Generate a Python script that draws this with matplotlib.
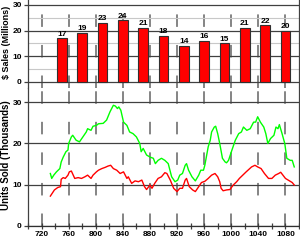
import numpy as np
import matplotlib
matplotlib.use("Agg")
import matplotlib.pyplot as plt
from matplotlib.ticker import MultipleLocator

plt.rcParams['font.family'] = ['Liberation Sans', 'DejaVu Sans']
plt.rcParams['font.weight'] = 'bold'
plt.rcParams['lines.scale_dashes'] = False

# Yearly sales (millions of $)
bar_x = [750, 780, 810, 840, 870, 900, 930, 960, 990, 1020, 1050, 1080]
sales = [17, 19, 23, 24, 21, 18, 14, 16, 15, 21, 22, 20]

# Units sold (thousands), two product lines
green_x = [733, 735, 738, 742, 747, 749, 752, 756, 759, 760, 764, 766, 771, 776,
           781, 786, 788, 793, 796, 801, 804, 811, 816, 821, 826, 829, 832, 834,
           837, 841, 846, 850, 855, 860, 865, 867, 870, 875, 880, 885, 888, 892,
           897, 902, 907, 912, 917, 921, 924, 928, 932, 934, 937, 942, 947, 952,
           955, 959, 961, 966, 969, 971, 975, 977, 980, 983, 987, 991, 993, 996,
           1001, 1006, 1011, 1015, 1018, 1023, 1028, 1033, 1036, 1039, 1043,
           1048, 1051, 1054, 1058, 1063, 1066, 1069, 1071, 1075, 1079, 1082,
           1087, 1090, 1093]
green_y = [12.7, 11.5, 12.3, 13.1, 13.9, 15.5, 16.7, 18.0, 18.4, 20.0, 21.6, 22.0,
           20.8, 20.4, 21.6, 22.8, 23.6, 23.2, 24.2, 24.4, 24.8, 24.9, 25.7, 27.7,
           29.3, 29.1, 28.5, 28.9, 28.1, 25.2, 24.4, 22.8, 22.4, 21.6, 20.0, 18.0,
           18.8, 17.2, 16.7, 16.4, 15.1, 15.9, 16.4, 15.9, 15.1, 11.9, 10.7, 11.1,
           12.3, 12.7, 14.7, 15.1, 13.5, 11.9, 10.9, 12.3, 13.5, 13.5, 14.7, 19.2,
           20.8, 22.8, 24.0, 24.2, 22.4, 20.0, 16.4, 15.5, 15.3, 15.9, 18.4, 20.8,
           22.4, 22.8, 24.0, 23.2, 23.6, 25.2, 25.2, 26.5, 25.2, 24.0, 22.4, 20.0,
           21.2, 22.0, 24.0, 23.6, 24.6, 22.4, 20.0, 16.4, 15.9, 15.9, 14.3]

red_x = [733, 739, 744, 748, 749, 752, 755, 759, 761, 764, 769, 774, 779, 784,
         788, 793, 796, 801, 804, 809, 814, 818, 822, 826, 831, 836, 841, 846,
         848, 853, 858, 863, 868, 872, 875, 880, 883, 887, 892, 897, 902, 905,
         910, 915, 920, 924, 928, 932, 934, 938, 943, 947, 952, 956, 961, 966,
         971, 976, 980, 983, 985, 988, 993, 998, 1003, 1008, 1012, 1017, 1022,
         1030, 1035, 1039, 1044, 1049, 1055, 1060, 1065, 1070, 1073, 1080, 1085,
         1090, 1093]
red_y = [7.2, 8.7, 9.3, 9.5, 11.3, 11.7, 11.5, 12.3, 13.1, 13.3, 11.5, 11.7, 11.5,
         11.9, 12.3, 11.5, 12.3, 13.1, 13.5, 13.9, 14.2, 14.5, 14.7, 13.9, 13.5,
         12.7, 13.1, 11.5, 11.9, 10.3, 10.9, 10.7, 11.1, 9.5, 8.8, 9.9, 9.1, 10.3,
         11.5, 11.9, 12.9, 12.7, 11.1, 9.1, 8.3, 9.1, 9.1, 11.1, 11.5, 9.5, 8.7,
         8.3, 9.5, 10.5, 10.8, 11.5, 12.3, 12.7, 11.9, 10.7, 9.1, 8.5, 8.7, 8.8,
         9.9, 10.7, 11.5, 12.3, 13.1, 14.3, 14.7, 14.3, 13.9, 12.7, 11.5, 11.5,
         12.3, 12.7, 13.0, 11.5, 11.0, 10.5, 9.9]

W, H = 300, 245
fig = plt.figure(figsize=(3.0, 2.45), dpi=100)

left, right = 28, 299
split, bottom = 88, 225.7
ax_top = fig.add_axes([left / W, 1 - split / H, (right - left) / W, split / H])
ax_bot = fig.add_axes([left / W, 1 - bottom / H, (right - left) / W, (bottom - split) / H])

vdash = (0, (9.0, 13.0))
for ax in (ax_top, ax_bot):
    ax.set_xlim(700, 1100)
    ax.xaxis.set_major_locator(MultipleLocator(40))
    ax.xaxis.set_minor_locator(MultipleLocator(20))
    ax.grid(axis='x', which='major', color='#707070', linewidth=1.2, linestyle=vdash)
    ax.grid(axis='y', which='major', color='#404040', linewidth=0.9)
    ax.set_axisbelow(True)
    ax.spines['top'].set_visible(False)
    for s in ('left', 'right', 'bottom'):
        ax.spines[s].set_color('#404040')
        ax.spines[s].set_linewidth(0.9)
    ax.yaxis.set_major_locator(MultipleLocator(10))
    ax.tick_params(axis='y', which='major', direction='out', length=3, width=0.9,
                   color='#404040', labelsize=6, pad=1.5)

# top panel: sales bars
ax_top.set_ylim(-2.45, 31.95)
ax_top.spines['bottom'].set_visible(False)
ax_top.tick_params(axis='x', which='both', bottom=False, labelbottom=False)
ax_top.yaxis.set_minor_locator(MultipleLocator(5))
ax_top.tick_params(axis='y', which='minor', left=False)
ax_top.grid(axis='y', which='minor', color='#c8c8c8', linewidth=0.8)
ax_top.bar(bar_x, sales, width=14, color='#ff0000', edgecolor='#303030',
           linewidth=0.8, zorder=3)
for x, v in zip(bar_x, sales):
    ax_top.annotate(str(v), (x, v), xytext=(0, 0.5), textcoords='offset points',
                    ha='center', va='bottom', fontsize=6, fontweight='bold')

# bottom panel: units sold lines
ax_bot.set_ylim(0, 33.5)
ax_bot.plot(green_x, green_y, color='#00ff00', linewidth=1.0, zorder=3)
ax_bot.plot(red_x, red_y, color='#ff0000', linewidth=1.0, zorder=3)
ax_bot.spines['bottom'].set_color('#303030')
ax_bot.tick_params(axis='x', which='both', direction='inout', length=5, width=0.9,
                   color='#404040', labelsize=6, pad=1)
ax_bot.set_yticks([0, 10, 20, 30])

fig.text(6.5 / W, 1 - 42 / H, '$ Sales (Millions)', rotation=90, ha='center',
         va='center', fontsize=6.5, fontweight='bold')
fig.text(6.5 / W, 1 - 155 / H, 'Units Sold (Thousands)', rotation=90, ha='center',
         va='center', fontsize=7, fontweight='bold')

fig.savefig('out.png', dpi=100)
